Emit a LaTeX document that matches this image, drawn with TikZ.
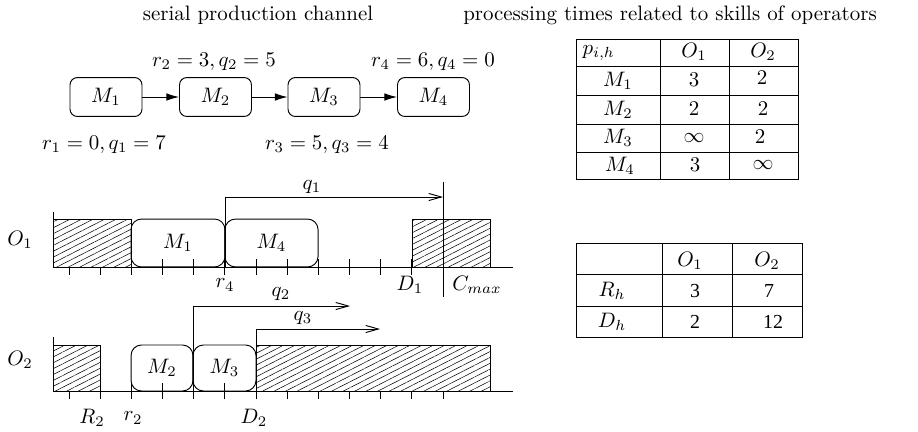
\documentclass[tikz,border=0pt]{standalone}
\usepackage{fontspec}
\newfontfamily\tmsfont{Liberation Serif}
\usetikzlibrary{arrows.meta,patterns.meta}
\begin{document}
\begin{tikzpicture}[x=0.478pt,y=-0.478pt,line width=0.45pt,
  chainbox/.style={draw,rounded corners=3.5pt,minimum width=34.4pt,minimum height=18.6pt,inner sep=0pt},
  taskbox/.style={draw,rounded corners=5pt,minimum height=22.9pt,inner sep=0pt},
  hatch/.style={draw,preaction={fill=white},pattern={Lines[angle=27,distance=2.5pt,line width=0.25pt]}},
  chainarrow/.style={-{Latex[length=6pt,width=3.6pt]}},
  qarrow/.style={-{Straight Barb[length=6pt,width=3.4pt]}},
  lbl/.style={inner sep=1pt},
  tnum/.style={inner sep=1pt,font=\tmsfont\fontsize{9.5}{11}\selectfont}]
\useasboundingbox (0,0) rectangle (918,431);

% titles
\node[lbl] (t1) at (258,15) {serial production channel};
\node[lbl] (t2) at (670,15) {processing times related to skills of operators};

% chain
\node[chainbox] (M1) at (106,97) {$M_1$};
\node[chainbox] (M2) at (215.5,97) {$M_2$};
\node[chainbox] (M3) at (324,97) {$M_3$};
\node[chainbox] (M4) at (433.5,97) {$M_4$};
\draw[chainarrow] (M1) -- (M2);
\draw[chainarrow] (M2) -- (M3);
\draw[chainarrow] (M3) -- (M4);
\node[lbl] (l2) at (214,62) {$r_2=3, q_2=5$};
\node[lbl] (l4) at (433,62) {$r_4=6, q_4=0$};
\node[lbl] (l1) at (104,145) {$r_1=0, q_1=7$};
\node[lbl] (l3) at (327,145) {$r_3=5, q_3=4$};

% ticks
\foreach \k in {0,...,12} {
  \draw ({69+31.17*\k},259) -- ({69+31.17*\k},275);
  \draw ({69+31.17*\k},383) -- ({69+31.17*\k},399);
}

% O1 row
\draw[hatch] (53,219) rectangle (131,267);
\draw[hatch] (412,219) rectangle (490,267);
\node[taskbox,minimum width=44.9pt] (g1) at (178,243) {$M_1$};
\node[taskbox,minimum width=44.5pt] (g4) at (271.5,243) {$M_4$};
\coordinate (a1) at (53,212);
\coordinate (o1) at (53,267);
\coordinate (e1) at (513,267);
\draw (a1) -- (o1) -- (e1);
\coordinate (cm1) at (443,182);
\coordinate (cm2) at (443,297);
\draw (cm1) -- (cm2);
\coordinate (q1s) at (225,267);
\coordinate (q1c) at (225,197);
\coordinate (q1e) at (443,197);
\draw[qarrow] (q1s) -- (q1c) -- (q1e);
\node[lbl] (q1) at (312,187) {$q_1$};
\node[lbl] (O1) at (20,240) {$O_1$};
\node[lbl] (r4) at (225,285) {$r_4$};
\node[lbl] (D1) at (410,285) {$D_1$};
\node[lbl] (Cm) at (477,285) {$C_{max}$};

% O2 row
\draw[hatch] (53,345) rectangle (100,391);
\draw[hatch] (256,345) rectangle (490,391);
\node[taskbox,minimum width=29.6pt,minimum height=22pt] (h2) at (162,368) {$M_2$};
\node[taskbox,minimum width=30.1pt,minimum height=22pt] (h3) at (224.5,368) {$M_3$};
\coordinate (a2) at (53,337);
\coordinate (o2) at (53,391);
\coordinate (e2) at (513,391);
\draw (a2) -- (o2) -- (e2);
\coordinate (q2s) at (193,391);
\coordinate (q2c) at (193,306);
\coordinate (q2e) at (350,306);
\draw[qarrow] (q2s) -- (q2c) -- (q2e);
\coordinate (q3s) at (256,391);
\coordinate (q3c) at (256,329);
\coordinate (q3e) at (380,329);
\draw[qarrow] (q3s) -- (q3c) -- (q3e);
\node[lbl] (q2) at (281,294) {$q_2$};
\node[lbl] (q3) at (303,318) {$q_3$};
\node[lbl] (O2) at (20,360) {$O_2$};
\node[lbl] (R2) at (92,418) {$R_2$};
\node[lbl] (r2) at (133,418) {$r_2$};
\node[lbl] (D2) at (254,418) {$D_2$};

% table 1
\draw (576,39) rectangle (798,179);
\foreach \yy in {66,95,124,152} \draw (576,\yy) -- (798,\yy);
\draw (660,39) -- (660,179);
\draw (729,39) -- (729,179);
\node[lbl,anchor=west] (p) at (580,53) {$p_{i,h}$};
\node[lbl] (tO1) at (694,52) {$O_1$};
\node[lbl] (tO2) at (763,52) {$O_2$};
\node[lbl] (tM1) at (618,81) {$M_1$};
\node[lbl] (tM2) at (618,110) {$M_2$};
\node[lbl] (tM3) at (618,138) {$M_3$};
\node[lbl] (tM4) at (620,166) {$M_4$};
\node[lbl] (v11) at (694,80) {$3$};
\node[lbl] (v12) at (762,78) {$2$};
\node[lbl] (v21) at (694,109) {$2$};
\node[lbl] (v22) at (763,109) {$2$};
\node[lbl] (v31) at (694,138) {$\infty$};
\node[lbl] (v32) at (760,137) {$2$};
\node[lbl] (v41) at (695,165) {$3$};
\node[lbl] (v42) at (763,165) {$\infty$};

% table 2
\draw (576,243) rectangle (802,337);
\draw (576,274) -- (802,274);
\draw (576,306) -- (802,306);
\draw (662,243) -- (662,337);
\draw (732,243) -- (732,337);
\node[lbl] (uO1) at (690,261) {$O_1$};
\node[lbl] (uO2) at (767,261) {$O_2$};
\node[lbl] (uR) at (612,291) {$R_h$};
\node[lbl] (uD) at (612,322) {$D_h$};
\node[tnum] (w11) at (695,291) {3};
\node[tnum] (w12) at (769,291) {7};
\node[tnum] (w21) at (695,322) {2};
\node[tnum] (w22) at (773,322) {12};
\end{tikzpicture}
\end{document}
